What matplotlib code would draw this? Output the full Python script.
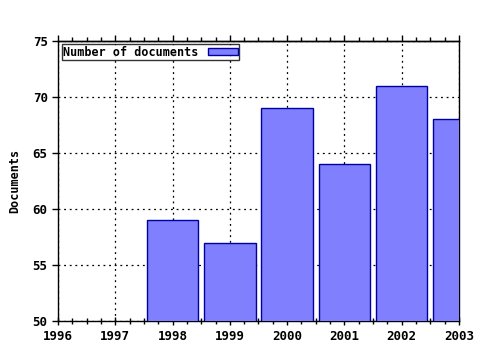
import numpy as np
import matplotlib
matplotlib.use('Agg')
import matplotlib.pyplot as plt
from matplotlib.ticker import AutoMinorLocator

years = [1998, 1999, 2000, 2001, 2002, 2003]
docs = [59, 57, 69, 64, 71, 68]
xticks = [1996, 1997, 1998, 1999, 2000, 2001, 2002, 2003]
yticks = [50, 55, 60, 65, 70, 75]

plt.rcParams['font.family'] = 'DejaVu Sans Mono'
plt.rcParams['font.weight'] = 'bold'
plt.rcParams['font.size'] = 8

fig = plt.figure(figsize=(4.8, 3.5), dpi=100)
ax = fig.add_axes([0.121, 0.083, 0.835, 0.8])

ax.bar(years, docs, width=0.9, color='#8080ff', edgecolor='#0000a0',
       linewidth=1, label='Number of documents', zorder=3)

ax.set_xlim(1996, 2003)
ax.set_ylim(50, 75)
ax.set_xticks(xticks)
ax.set_yticks(yticks)
ax.xaxis.set_minor_locator(AutoMinorLocator(4))
ax.grid(True, which='major', linestyle=(0, (1.5, 3)), color='black', linewidth=0.9, zorder=0)
ax.tick_params(axis='x', which='major', direction='inout', length=6, width=1)
ax.tick_params(axis='x', which='minor', direction='inout', length=4, width=1)
ax.tick_params(axis='y', which='major', direction='out', length=4, width=1)
ax.tick_params(labelsize=9)
for lab in ax.get_xticklabels() + ax.get_yticklabels():
    lab.set_fontweight('bold')

# ticks on the top edge point outwards only
top = ax.secondary_xaxis('top')
top.set_xticks(xticks)
top.xaxis.set_minor_locator(AutoMinorLocator(4))
top.tick_params(which='major', direction='out', length=4, width=1, labeltop=False)
top.tick_params(which='minor', direction='out', length=3, width=1)
top.spines['top'].set_linewidth(1)

ax.set_ylabel('Documents', fontsize=8.5, fontweight='bold', labelpad=8)
for s in ax.spines.values():
    s.set_linewidth(1)

leg = ax.legend(loc='upper left', markerfirst=False, frameon=True, fancybox=False,
                edgecolor='black', borderpad=0.1, handlelength=2.6, handleheight=0.6,
                borderaxespad=0.3, prop={'family': 'DejaVu Sans Mono', 'weight': 'bold', 'size': 8.5})
leg.get_frame().set_linewidth(1)

plt.savefig('out.png', dpi=100)
